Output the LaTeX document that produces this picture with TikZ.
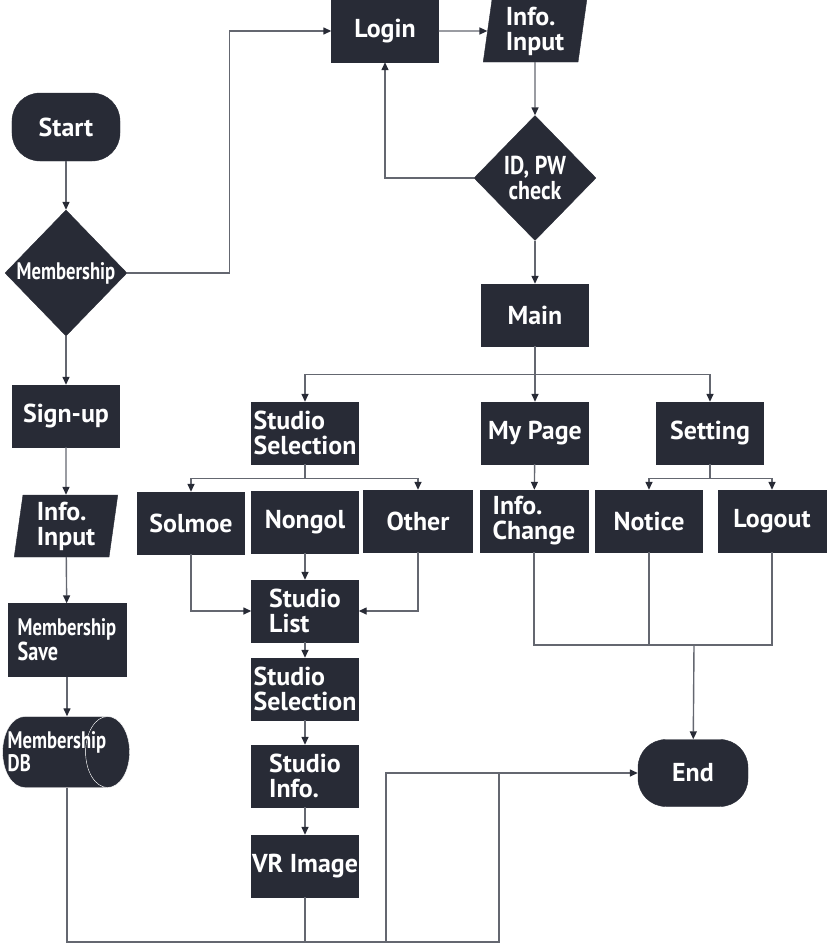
\documentclass[tikz,border=0pt]{standalone}
\usepackage{fontspec}
\setmainfont{PT Sans}
\usetikzlibrary{shapes.geometric, positioning, arrows.meta, calc}
\definecolor{boxfill}{RGB}{40,43,54}
\definecolor{linegray}{RGB}{100,103,112}
\newcommand{\narrowtxt}[1]{\scalebox{0.78}[1]{#1}}

\begin{document}
\begin{tikzpicture}[
  x=1bp, y=-1bp,
  >={Triangle[length=8bp,width=7bp,color=boxfill]},
  every node/.style={font=\bfseries\fontsize{26}{25}\selectfont, text=white},
  box/.style={draw=boxfill, fill=boxfill, minimum width=107bp, minimum height=62bp, inner sep=0pt, align=left},
  term/.style={box, rounded corners=28bp, minimum width=108bp, minimum height=68bp},
  dec/.style={draw=boxfill, fill=boxfill, diamond, inner sep=0pt, minimum width=122bp, minimum height=126bp, align=center},
  io/.style={draw=boxfill, fill=boxfill, trapezium, trapezium left angle=83, trapezium right angle=97, trapezium stretches=true, minimum width=104bp, minimum height=62bp, inner sep=0pt, align=left},
  store/.style={cylinder, shape border rotate=0, aspect=0.62, cylinder uses custom fill, cylinder end fill=boxfill, cylinder body fill=boxfill, draw=white, minimum height=127bp, minimum width=71bp, inner sep=0pt},
  arr/.style={->, draw=linegray, line width=1.4bp},
  line/.style={draw=linegray, line width=1.4bp}
]
  \useasboundingbox (0,0) rectangle (827,946);

  % left column
  \node[term] (start) at (66,127) {Start};
  \node[dec] (member) at (66,273) {\fontsize{24}{22}\selectfont\narrowtxt{Membership}};
  \node[box] (signup) at (66,416) {Sign-up};
  \node[io] (infoL) at (66,526) {Info.\\Input};
  \node[box, minimum width=118bp, minimum height=73bp] (save) at (67,640)
    {\fontsize{24}{23}\selectfont\narrowtxt{Membership}\\\narrowtxt{Save}};
  \node[store, label={[align=left, xshift=2bp, font=\bfseries\fontsize{24}{23}\selectfont]center:\narrowtxt{Membership}\\\narrowtxt{DB}}] (db) at (55,752) {\rule{0pt}{71bp}};

  % login part
  \node[box] (login) at (385,31) {Login};
  \node[io] (infoT) at (535,31) {Info.\\Input};
  \node[dec, minimum height=125bp] (check) at (535,178) {\scalebox{0.85}[1]{ID, PW}\\\scalebox{0.85}[1]{check}};
  \node[box] (main) at (535,315) {Main};

  % menu
  \node[box] (ssel) at (305,433) {Studio\\Selection};
  \node[box] (mypage) at (535,433) {My Page};
  \node[box] (setting) at (710,433) {Setting};

  \node[box] (solmoe) at (191,523) {Solmoe};
  \node[box] (nongol) at (305,522) {Nongol};
  \node[box, minimum width=109bp] (other) at (418,521) {Other};
  \node[box, minimum width=108bp] (infochg) at (534,521) {Info.\\Change};
  \node[box] (notice) at (649,521) {Notice};
  \node[box, minimum width=108bp] (logout) at (772,521) {Logout};

  \node[box] (slist) at (305,611) {Studio\\List};
  \node[box] (ssel2) at (305,689) {Studio\\Selection};
  \node[box] (sinfo) at (305,776) {Studio\\Info.};
  \node[box] (vr) at (305,866) {VR Image};

  \node[term, minimum width=110bp, minimum height=67bp] (endn) at (693,773) {End};

  \coordinate (join) at (694,645);
  \coordinate (vrj) at (499,773);

  % connectors
  \draw[arr] (start) -- (member);
  \draw[arr] (member.east) -- ++(102,0) |- (login.west);
  \draw[arr] (login) -- (infoT);
  \draw[arr] (infoT) -- (check);
  \draw[arr] (check.west) -| (login.south);
  \draw[arr] (check) -- (main);

  \draw[arr] (member) -- (signup);
  \draw[arr] (signup) -- (infoL);
  \draw[arr] (infoL) -- (save);
  \draw[arr] (save) -- (save |- db.north);

  \draw[line] (main.south) -- ++(0,28) coordinate (mf);
  \draw[arr] (mf) -| (ssel);
  \draw[arr] (mf) -| (setting);
  \draw[arr] (mf) -- (mypage);

  \draw[line] (ssel.south) -- ++(0,14) coordinate (sf);
  \draw[arr] (sf) -| (solmoe);
  \draw[arr] (sf) -| (other);
  \draw[arr] (mypage) -- (infochg);
  \draw[line] (setting.south) -- ++(0,14) coordinate (tf);
  \draw[arr] (tf) -| (notice);
  \draw[arr] (tf) -| (logout);

  \draw[arr] (solmoe.south) |- (slist.west);
  \draw[arr] (other.south) |- (slist.east);
  \draw[arr] (nongol) -- (slist);
  \draw[arr] (slist) -- (ssel2);
  \draw[arr] (ssel2) -- (sinfo);
  \draw[arr] (sinfo) -- (vr);

  \draw[line] (infochg.south) |- (join);
  \draw[line] (logout.south) |- (join);
  \draw[line] (notice.south) -- (notice.south |- join);
  \draw[arr] (join) -- (endn);

  \draw[arr] (save |- db.south) |- (386,942) |- (endn.west);
  \draw[line] (vr.south) |- (499,942) -- (vrj);
\end{tikzpicture}
\end{document}
